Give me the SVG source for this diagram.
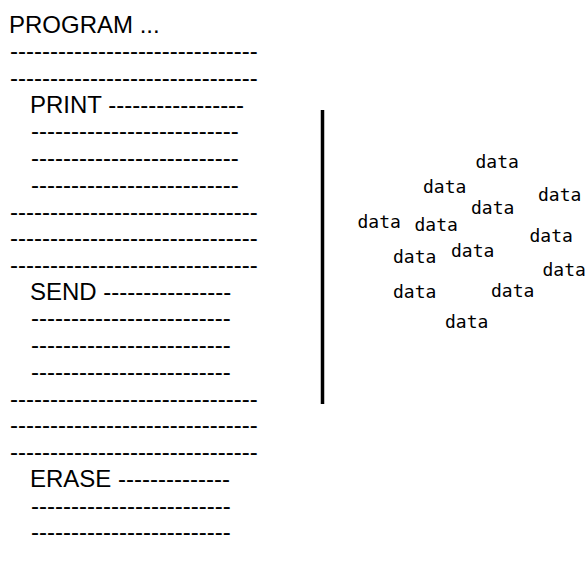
<svg xmlns="http://www.w3.org/2000/svg" width="588" height="563" viewBox="0 0 588 563">
<style>
.p{font-family:"Liberation Sans",Arial,sans-serif;font-size:24px;fill:#000}
.d{font-family:"DejaVu Sans Mono",monospace;font-size:18px;fill:#000}
</style>
<rect width="588" height="563" fill="#fff"/>
<g id="program">
<text class="p" x="9" y="32.5">PROGRAM ...</text>
<text class="p" x="10" y="59.2">-------------------------------</text>
<text class="p" x="10" y="85.9">-------------------------------</text>
<g id="print">
<text class="p" x="30" y="112.7">PRINT -----------------</text>
<text class="p" x="31" y="139.4">--------------------------</text>
<text class="p" x="31" y="166.1">--------------------------</text>
<text class="p" x="31" y="192.8">--------------------------</text>
</g>
<text class="p" x="10" y="219.5">-------------------------------</text>
<text class="p" x="10" y="246.3">-------------------------------</text>
<text class="p" x="10" y="273">-------------------------------</text>
<g id="send">
<text class="p" x="30" y="299.7">SEND ----------------</text>
<text class="p" x="31" y="326.4">-------------------------</text>
<text class="p" x="31" y="353.1">-------------------------</text>
<text class="p" x="31" y="379.9">-------------------------</text>
</g>
<text class="p" x="10" y="406.6">-------------------------------</text>
<text class="p" x="10" y="433.3">-------------------------------</text>
<text class="p" x="10" y="460">-------------------------------</text>
<g id="erase">
<text class="p" x="30" y="486.7">ERASE --------------</text>
<text class="p" x="31" y="513.5">-------------------------</text>
<text class="p" x="31" y="540.2">-------------------------</text>
</g>
</g>
<g id="divider">
<line x1="322.5" y1="110" x2="322.5" y2="404" stroke="#000" stroke-width="3.5"/>
</g>
<g id="data">
<text class="d" x="475.5" y="168">data</text>
<text class="d" x="423" y="192.5">data</text>
<text class="d" x="538" y="200.5">data</text>
<text class="d" x="471" y="214">data</text>
<text class="d" x="357.5" y="228.3">data</text>
<text class="d" x="414.5" y="230.7">data</text>
<text class="d" x="529.5" y="241.7">data</text>
<text class="d" x="393" y="263.3">data</text>
<text class="d" x="451" y="256.7">data</text>
<text class="d" x="542.5" y="276">data</text>
<text class="d" x="393" y="298.3">data</text>
<text class="d" x="491" y="296.7">data</text>
<text class="d" x="445" y="328.3">data</text>
</g>
</svg>
